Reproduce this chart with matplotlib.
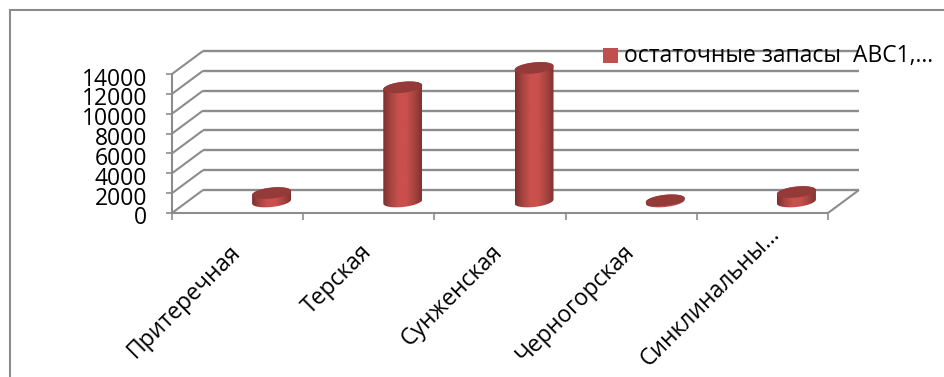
import numpy as np
import matplotlib
matplotlib.use("Agg")
import matplotlib.pyplot as plt
from matplotlib.colors import LinearSegmentedColormap
from matplotlib.patches import PathPatch, Rectangle
from matplotlib.path import Path

plt.rcParams["font.family"] = ["Open Sans", "DejaVu Sans"]

categories = ["Притеречная", "Терская", "Сунженская", "Черногорская", "Синклинальны..."]
reserves = [850, 11500, 13450, 120, 950]
y_ticks = [0, 2000, 4000, 6000, 8000, 10000, 12000, 14000]
legend_label = "остаточные запасы  АВС1,..."

W, H = 944, 377
GRID = "#8c8c8c"
# plot box of the front plane, in pixels
LEFT, RIGHT, TOP, BOTTOM = 172, 828, 74, 213
DEPTH_X, DEPTH_Y = 31, 23

fig = plt.figure(figsize=(W / 100, H / 100), dpi=100)
ax = fig.add_axes([LEFT / W, 1 - BOTTOM / H, (RIGHT - LEFT) / W, (BOTTOM - TOP) / H])
ax.set_xlim(0, len(categories))
ax.set_ylim(0, 14000)
ax.axis("off")

# pixel sizes expressed in data units
px_x = len(categories) / (RIGHT - LEFT)
px_y = 14000 / (BOTTOM - TOP)
dx, dy = DEPTH_X * px_x, DEPTH_Y * px_y


def line(xs, ys, lw=1.5, color=GRID, z=1):
    ax.plot(xs, ys, color=color, lw=lw, clip_on=False, zorder=z, solid_capstyle="butt")


# back wall, side wall and floor
for tick in y_ticks:
    line([0, dx], [tick, tick + dy])
    line([dx, len(categories) + dx], [tick + dy, tick + dy], lw=1.7)
    line([-6 * px_x, 0], [tick, tick], lw=1.2)
line([0, 0], [0, 14000])
line([0, len(categories)], [0, 0])
line([len(categories), len(categories) + dx], [0, dy])
for i in range(len(categories) + 1):
    line([i, i], [0, -7 * px_y], lw=1.2)

# y axis labels
for tick in y_ticks:
    ax.text(-25 * px_x, tick - 5.5 * px_y, str(tick), ha="right", va="center", fontsize=16.5, color="black", clip_on=False)

# category labels, the truncated last one sits further along its slope
for i, name in enumerate(categories):
    shift_x, shift_y = (15, 18) if name.endswith("...") else (0, 0)
    ax.text(i + 0.53 + (shift_x - 13) * px_x, (shift_y - 27) * px_y, name, rotation=45, rotation_mode="anchor",
            ha="right", va="top", fontsize=16.5, color="black", clip_on=False)

# cylinders
body_cmap = LinearSegmentedColormap.from_list("body", ["#7c2f2d", "#a94442", "#c9504d", "#c9504d", "#a94442", "#7f3230"])
gradient = np.linspace(0, 1, 128).reshape(1, -1)
RX, RY, TILT = 19.5, 5.5, 2.0
CENTER_SHIFT = 34
BASE_Y = 11.5
t = np.linspace(0, 2 * np.pi, 80)

for i, value in enumerate(reserves):
    cx = i + 0.5 + CENTER_SHIFT * px_x
    base = BASE_Y * px_y
    top = base + value
    ex = RX * px_x * np.cos(t)
    ey = (RY * np.sin(t) + TILT * np.cos(t)) * px_y
    # outline of the side surface: lower half at the base, upper half at the top
    low = np.linspace(np.pi, 2 * np.pi, 40)
    up = np.linspace(0, np.pi, 40)
    xs = np.r_[cx + RX * px_x * np.cos(low), cx + RX * px_x * np.cos(up)]
    ys = np.r_[base + (RY * np.sin(low) + TILT * np.cos(low)) * px_y,
               top + (RY * np.sin(up) + TILT * np.cos(up)) * px_y]
    outline = PathPatch(Path(np.c_[xs, ys]), transform=ax.transData, fc="none", ec="none")
    ax.add_patch(outline)
    img = ax.imshow(gradient, cmap=body_cmap, aspect="auto", zorder=3,
                    extent=[cx - RX * px_x, cx + RX * px_x, base - 10 * px_y, top + 10 * px_y])
    img.set_clip_path(outline)
    img.set_clip_box(fig.bbox)
    ax.fill(cx + ex, top + ey, color="#943a38", lw=0, zorder=4, clip_on=False)

ax.set_xlim(0, len(categories))
ax.set_ylim(0, 14000)

# legend
ax.add_patch(Rectangle((603 / W, 1 - 63 / H), 15 / W, 15 / H, transform=fig.transFigure, fc="#c0504d", ec="none",
                       clip_on=False, zorder=5))
fig.text(624 / W, 1 - 56 / H, legend_label, fontsize=16.5, va="center", ha="left", color="black", zorder=6)

# chart frame, open on the right and at the bottom
for xs, ys in [([10, 10], [10, 377]), ([10, 944], [10, 10])]:
    fig.add_artist(plt.Line2D(np.array(xs) / W, 1 - np.array(ys) / H, color="#8c8c8c", lw=1.5))

fig.savefig("out.png", dpi=100)
